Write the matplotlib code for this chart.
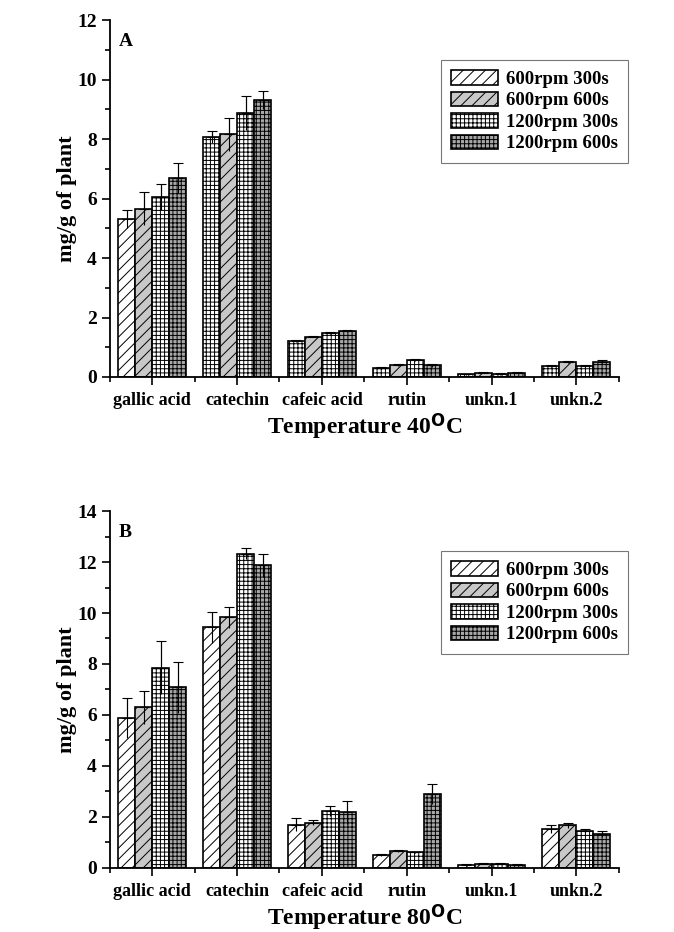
import numpy as np
import matplotlib
matplotlib.use('Agg')
import matplotlib.pyplot as plt
from matplotlib.ticker import MultipleLocator, FixedLocator

plt.rcParams['font.family'] = ['Liberation Serif', 'DejaVu Serif']
plt.rcParams['font.weight'] = 'bold'
plt.rcParams['mathtext.default'] = 'regular'
plt.rcParams['hatch.linewidth'] = 0.7

compounds = ['gallic acid', 'catechin', 'cafeic acid', 'rutin', 'unkn.1', 'unkn.2']
series = ['600rpm 300s', '600rpm 600s', '1200rpm 300s', '1200rpm 600s']

# panel A, 40 C
a_vals = [
    [5.30, 8.07, 1.21, 0.30, 0.09, 0.36],
    [5.66, 8.16, 1.36, 0.41, 0.15, 0.50],
    [6.05, 8.86, 1.49, 0.57, 0.10, 0.38],
    [6.68, 9.31, 1.54, 0.39, 0.15, 0.52],
]
a_err = [
    [0.30, 0.20, 0.03, 0.03, 0.02, 0.03],
    [0.55, 0.55, 0.03, 0.03, 0.02, 0.04],
    [0.44, 0.57, 0.03, 0.04, 0.02, 0.03],
    [0.51, 0.31, 0.03, 0.06, 0.02, 0.04],
]
# panel B, 80 C
b_vals = [
    [5.88, 9.44, 1.70, 0.51, 0.13, 1.54],
    [6.30, 9.84, 1.78, 0.67, 0.16, 1.67],
    [7.86, 12.33, 2.24, 0.61, 0.16, 1.46],
    [7.08, 11.88, 2.18, 2.89, 0.13, 1.33],
]
b_err = [
    [0.80, 0.60, 0.25, 0.03, 0.02, 0.16],
    [0.65, 0.41, 0.09, 0.03, 0.02, 0.09],
    [1.04, 0.23, 0.20, 0.03, 0.02, 0.07],
    [1.01, 0.45, 0.45, 0.40, 0.02, 0.11],
]

face = ['white', '#c8c8c8', 'white', '#a8a8a8']
hatch = ['///', '///', '++++', '++++']


def draw_panel(ax, vals, err, ymax, letter, temp, first_grid=False):
    x = np.arange(len(compounds))
    w = 0.2
    for i in range(4):
        pos = x + (i - 1.5) * w
        bars = ax.bar(pos, vals[i], w, color=face[i], edgecolor='k', linewidth=1.2,
                      hatch=hatch[i], label=series[i], zorder=2)
        if first_grid and i == 0:
            # in the original panel A, first bars after gallic acid are drawn with grid
            for b in bars[1:]:
                b.set_hatch('++++')
        ax.errorbar(pos, vals[i], yerr=err[i], fmt='none', ecolor='k', elinewidth=0.8,
                    capsize=0, zorder=3)
        ax.errorbar(pos, vals[i], yerr=[np.zeros(len(x)), err[i]], fmt='none', ecolor='k',
                    elinewidth=0.8, capsize=3.5, capthick=0.8, zorder=3)

    ax.set_xlim(-0.5, len(compounds) - 0.5)
    ax.set_ylim(0, ymax)
    ax.spines['top'].set_visible(False)
    ax.spines['right'].set_visible(False)
    ax.spines['left'].set_linewidth(1.3)
    ax.spines['bottom'].set_linewidth(1.3)

    ax.set_xticks(x)
    ax.set_xticklabels(compounds, fontsize=13, fontweight='bold')
    ax.xaxis.set_minor_locator(FixedLocator(np.arange(-0.5, len(compounds), 1.0)))
    ax.yaxis.set_major_locator(MultipleLocator(2))
    ax.yaxis.set_minor_locator(MultipleLocator(1))
    ax.tick_params(axis='both', which='major', direction='out', length=6, width=1.2)
    ax.tick_params(axis='both', which='minor', direction='out', length=3.5, width=1.2)
    ax.tick_params(axis='y', labelsize=14)
    ax.tick_params(axis='x', pad=5)
    for t in ax.get_yticklabels():
        t.set_fontweight('bold')

    ax.set_ylabel('mg/g of plant', fontsize=16, fontweight='bold', labelpad=0)
    ax.set_xlabel('Temperature ' + temp + '$^\\mathbf{O}$C', fontsize=17, fontweight='bold', labelpad=2)
    ax.text(0.017, 0.965, letter, transform=ax.transAxes, fontsize=14, fontweight='bold',
            va='top', ha='left')

    leg = ax.legend(loc='upper right', bbox_to_anchor=(1.018, 0.888), borderaxespad=0,
                    fontsize=13.5, frameon=True, fancybox=False, handlelength=2.5,
                    handleheight=0.8, handletextpad=0.4, labelspacing=0.2, borderpad=0.55)
    leg.get_frame().set_edgecolor('#555555')
    leg.get_frame().set_linewidth(0.8)
    for t in leg.get_texts():
        t.set_fontweight('bold')


fig = plt.figure(figsize=(6.74, 9.32), dpi=100)
ax1 = fig.add_axes([0.163, 0.5955, 0.755, 0.383])
ax2 = fig.add_axes([0.163, 0.0687, 0.755, 0.383])

draw_panel(ax1, a_vals, a_err, 12, 'A', '40', first_grid=True)
draw_panel(ax2, b_vals, b_err, 14, 'B', '80')

fig.savefig('out.png', dpi=100)
